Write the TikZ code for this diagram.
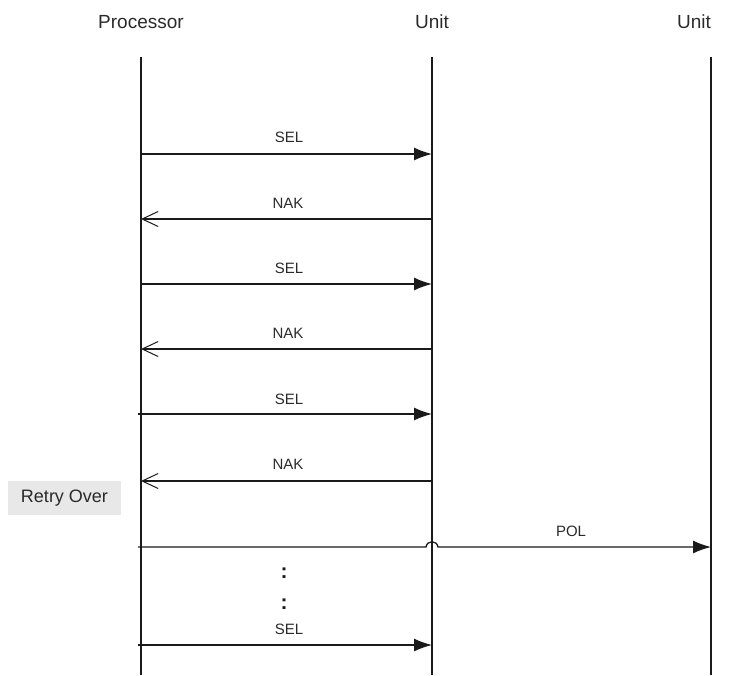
\documentclass[tikz,border=0pt]{standalone}
\usepackage{fontspec}
\setmainfont{Liberation Sans}
\usetikzlibrary{arrows.meta}
\definecolor{ink}{HTML}{1A1A1A}
\definecolor{txt}{HTML}{2A2A2A}
\definecolor{boxgray}{HTML}{E8E8E8}
\tikzset{
  head/.style={font=\fontsize{19}{22}\selectfont, text=txt, inner sep=0pt, anchor=base},
  msglabel/.style={font=\fontsize{15}{18}\selectfont, text=txt, inner sep=0pt, anchor=base},
  lifeline/.style={draw=ink, line width=1.3pt},
  callmsg/.style={draw=ink, line width=1.3pt, -{Latex[length=18pt,width=13pt]}},
  replymsg/.style={draw=ink, line width=1.2pt, -{Straight Barb[length=16pt,width=15pt,line width=1pt]}},
  notebox/.style={fill=boxgray, draw=none, minimum width=113pt, minimum height=34pt, inner sep=0pt, font=\fontsize{18}{21}\selectfont, text=txt},
  dots/.style={font=\fontsize{21}{24}\selectfont\bfseries, text=ink, inner sep=0pt}
}
\begin{document}
\begin{tikzpicture}[x=1pt,y=-1pt]
\useasboundingbox (0,0) rectangle (733,675);
% headers
\node[head] (hp) at (141,28) {Processor};
\node[head] (hu1) at (432,28) {Unit};
\node[head] (hu2) at (694,28) {Unit};
% lifeline ends
\coordinate (pt) at (141,57); \coordinate (pb) at (141,675);
\coordinate (ut) at (432,57); \coordinate (ub) at (432,675);
\coordinate (vt) at (711,57); \coordinate (vb) at (711,675);
\draw[lifeline] (pt) -- (pb);
\draw[lifeline] (ut) -- (ub);
\draw[lifeline] (vt) -- (vb);
% message end points
\coordinate (a1) at (141,154); \coordinate (b1) at (432,154);
\coordinate (a2) at (141,219); \coordinate (b2) at (432,219);
\coordinate (a3) at (141,284); \coordinate (b3) at (432,284);
\coordinate (a4) at (141,349); \coordinate (b4) at (432,349);
\coordinate (a5) at (138,414); \coordinate (b5) at (432,414);
\coordinate (a6) at (141,481); \coordinate (b6) at (432,481);
\coordinate (a7) at (138,547); \coordinate (b7) at (711,547);
\coordinate (j1) at (426,547); \coordinate (j2) at (438,547);
\coordinate (a8) at (138,645); \coordinate (b8) at (432,645);
% messages
\draw[callmsg] (a1) -- (b1);
\node[msglabel] (l1) at (289,142) {SEL};
\draw[replymsg] (b2) -- (a2);
\node[msglabel] (l2) at (288,208) {NAK};
\draw[callmsg] (a3) -- (b3);
\node[msglabel] (l3) at (289,273) {SEL};
\draw[replymsg] (b4) -- (a4);
\node[msglabel] (l4) at (288,338) {NAK};
\draw[callmsg] (a5) -- (b5);
\node[msglabel] (l5) at (289,404) {SEL};
\draw[replymsg] (b6) -- (a6);
\node[msglabel] (l6) at (288,469) {NAK};
\draw[callmsg] (a7) -- (j1) .. controls (427,540) and (437,540) .. (j2) -- (b7);
\node[msglabel] (l7) at (571,536) {POL};
\node[dots] (d1) at (284,573) {:};
\node[dots] (d2) at (284,604) {:};
\node[msglabel] (l8) at (289,634) {SEL};
\draw[callmsg] (a8) -- (b8);
% note
\node[notebox] (retry) at (64.5,498) {Retry Over};
\end{tikzpicture}
\end{document}
